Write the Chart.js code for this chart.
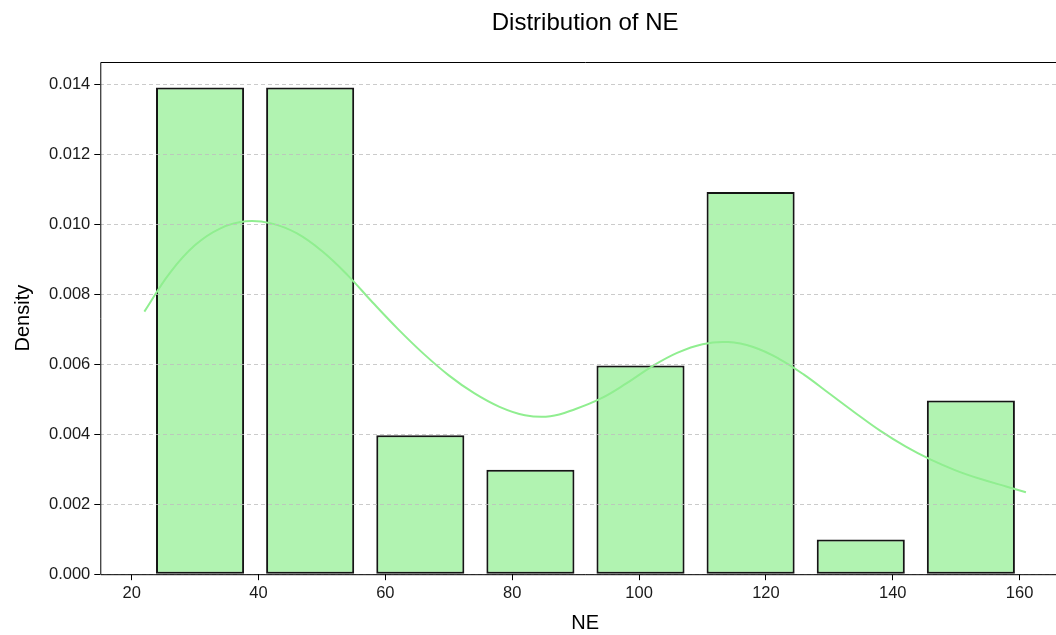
<!DOCTYPE html>
<html>
<head>
<meta charset="utf-8">
<title>Distribution of NE</title>
<script src="https://cdn.jsdelivr.net/npm/chart.js@4.4.1/dist/chart.umd.min.js"></script>
<style>
  html, body { margin: 0; padding: 0; background: #ffffff; overflow: hidden; }
  #wrap { width: 1090px; height: 635px; position: relative; }
</style>
</head>
<body>
<div id="wrap"><canvas id="chart"></canvas></div>
<script>
// Histogram of NE: bin centres and density per bin
const binCenters = [30.78, 48.14, 65.51, 82.87, 100.23, 117.59, 134.96, 152.32];
const densities  = [0.01390, 0.01390, 0.00397, 0.00298, 0.00596, 0.01092, 0.00099, 0.00496];

// Kernel density estimate sampled along NE
const kdeX = [22, 26, 30, 34, 38, 42, 46, 50, 54, 58, 62, 66, 70, 74, 78, 82, 86, 90, 94, 98,
              102, 106, 110, 114, 118, 122, 126, 130, 134, 138, 142, 146, 150, 154, 158, 161];
const kdeY = [0.00750, 0.00860, 0.00940, 0.00988, 0.01008, 0.01002, 0.00974, 0.00923, 0.00855, 0.00776,
              0.00700, 0.00630, 0.00568, 0.00517, 0.00478, 0.00454, 0.00451, 0.00472, 0.00502, 0.00545,
              0.00593, 0.00632, 0.00657, 0.00663, 0.00649, 0.00616, 0.00570, 0.00516, 0.00462, 0.00410,
              0.00365, 0.00327, 0.00296, 0.00271, 0.00250, 0.00234];

// Axis ticks
const xTicks = [20, 40, 60, 80, 100, 120, 140, 160];
const yTicks = [0, 0.002, 0.004, 0.006, 0.008, 0.010, 0.012, 0.014];

const FONT = "'Liberation Sans', Arial, Helvetica, sans-serif";
Chart.defaults.font.family = FONT;
Chart.defaults.color = '#000';

// Title centred over the plotting area, plus the left, bottom and top spines
const frame = {
  id: 'frame',
  afterDraw(chart) {
    const { ctx, chartArea: a } = chart;
    ctx.save();
    ctx.strokeStyle = '#000';
    ctx.lineWidth = 1;
    ctx.beginPath();
    ctx.moveTo(a.right, a.bottom + 0.5);
    ctx.lineTo(a.left + 0.5, a.bottom + 0.5);
    ctx.lineTo(a.left + 0.5, a.top + 0.5);
    ctx.lineTo(a.right, a.top + 0.5);
    ctx.stroke();
    ctx.font = '24px ' + FONT;
    ctx.fillStyle = '#000';
    ctx.textAlign = 'center';
    ctx.textBaseline = 'middle';
    ctx.fillText('Distribution of NE', (a.left + a.right) / 2, 23);
    ctx.restore();
  }
};

new Chart(document.getElementById('chart'), {
  type: 'bar',
  data: {
    datasets: [
      {
        type: 'line',
        label: 'KDE',
        data: kdeX.map((x, i) => ({ x, y: kdeY[i] })),
        borderColor: '#90ee90',
        borderWidth: 2,
        pointRadius: 0,
        fill: false,
        tension: 0.4,
        order: 0
      },
      {
        type: 'bar',
        label: 'NE',
        data: binCenters.map((x, i) => ({ x, y: densities[i] })),
        backgroundColor: 'rgba(144, 238, 144, 0.7)',
        borderColor: '#151515',
        borderWidth: 2,
        borderSkipped: false,
        categoryPercentage: 1.0,
        barPercentage: 0.8,
        order: 1
      }
    ]
  },
  options: {
    responsive: true,
    maintainAspectRatio: false,
    animation: false,
    devicePixelRatio: 1,
    layout: { padding: { top: 62, right: 20, left: 11, bottom: 0 } },
    plugins: {
      legend: { display: false },
      title: { display: false },
      tooltip: { enabled: false }
    },
    scales: {
      x: {
        type: 'linear',
        offset: false,
        min: 15.05,
        max: 167.95,
        afterBuildTicks: s => { s.ticks = xTicks.map(v => ({ value: v })); },
        grid: {
          offset: false,
          drawOnChartArea: false,
          drawTicks: true,
          tickLength: 6,
          tickColor: '#000',
          tickWidth: 1
        },
        border: { display: false },
        ticks: { font: { size: 16.5 }, color: '#1a1a1a', padding: 3.5, maxRotation: 0 },
        title: { display: true, text: 'NE', font: { size: 20 }, color: '#000', padding: { top: 4, bottom: 0 } }
      },
      y: {
        type: 'linear',
        min: 0,
        max: 0.01463,
        afterBuildTicks: s => { s.ticks = yTicks.map(v => ({ value: v })); },
        grid: {
          z: 1,
          color: 'rgba(190, 190, 190, 0.8)',
          lineWidth: 1,
          drawTicks: true,
          tickLength: 6,
          tickColor: '#000',
          tickBorderDash: [],
          tickWidth: 1
        },
        border: { display: false, dash: [4, 3] },
        ticks: {
          font: { size: 16.5 },
          color: '#1a1a1a',
          padding: 4,
          callback: v => v.toFixed(3)
        },
        title: { display: true, text: 'Density', font: { size: 20 }, color: '#000', padding: { top: 0, bottom: 10 } }
      }
    }
  },
  plugins: [frame]
});
</script>
</body>
</html>
